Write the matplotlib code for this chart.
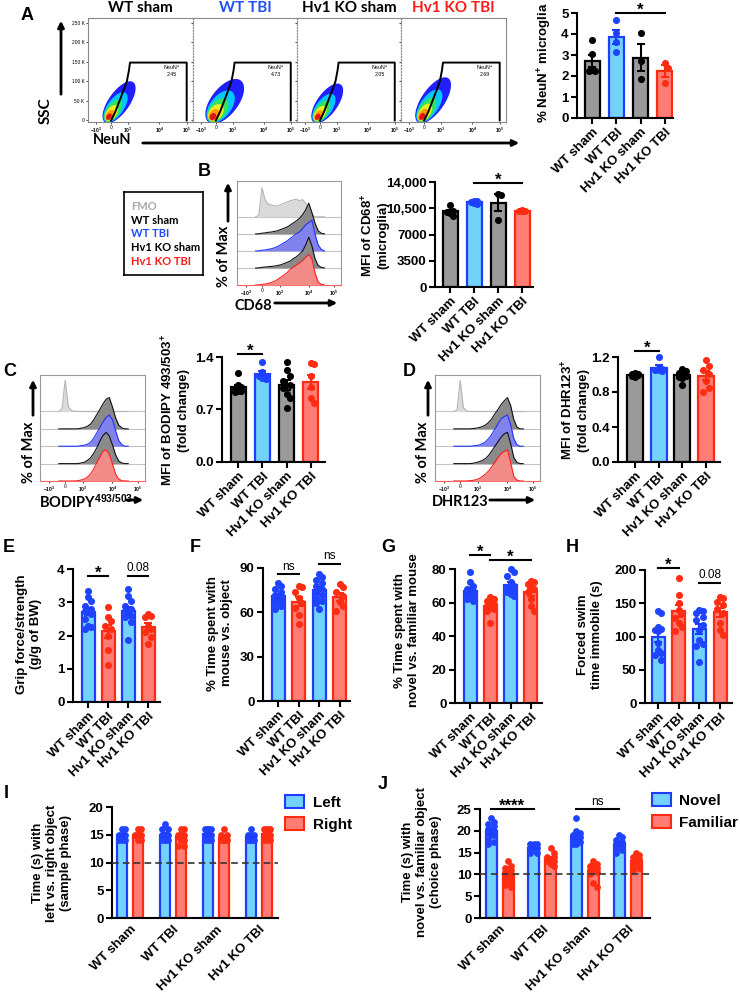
import matplotlib
matplotlib.use("Agg")
import matplotlib.pyplot as plt
import numpy as np
from matplotlib.patches import Patch, FancyArrowPatch

W, H = 740, 996

groups = ["WT sham", "WT TBI", "Hv1 KO sham", "Hv1 KO TBI"]

# A - flow plots (gate %) and % NeuN+ microglia
gate_pct = ["2.45", "4.73", "2.05", "2.69"]
gate_x = [0.22, 0.26, 0.30, 0.34, 0.37, 0.39, 0.40, 0.94, 0.94]
gate_y = [0, 22, 50, 78, 100, 128, 148, 148, 0]
cloud_base = [(0.19, 6), (0.18, 6), (0.19, 6), (0.19, 6)]
cloud_tip = [(0.43, 98), (0.46, 102), (0.42, 92), (0.45, 108)]
cloud_width = [0.2, 0.26, 0.2, 0.22]
neun_pct = [[3.7, 3.05, 2.3, 2.25, 2.25], [4.65, 4.05, 3.6, 3.12],
            [4.05, 2.7, 1.87], [2.62, 2.38, 1.67]]

# B - CD68
cd68_mfi = [[10900, 10200, 9900, 9500, 10000], [11420, 11330, 11200, 11100, 11450],
            [12440, 12300, 8980], [10250, 10150, 10100, 10200]]

# C - BODIPY, D - DHR123 (fold change)
bodipy_fc = [[1.18, 1.02, 1.0, 0.97, 0.95, 0.93, 0.95], [1.33, 1.2, 1.15, 1.12, 1.1, 1.15],
             [1.33, 1.22, 1.15, 1.08, 1.02, 0.98, 0.9, 0.85, 0.72],
             [1.32, 1.3, 1.15, 1.0, 0.85, 0.78]]
dhr_fc = [[1.02, 1.01, 1.0, 1.0, 0.99, 0.99, 0.98, 0.97], [1.2, 1.07, 1.06, 1.05, 1.05, 1.04],
          [1.06, 1.04, 1.02, 1.0, 0.98, 0.97, 0.96, 0.88],
          [1.17, 1.1, 1.05, 1.0, 0.92, 0.85, 0.8]]

# histogram overlays (fraction of max), rows: FMO, WT sham, WT TBI, KO sham, KO TBI
hist_x = [0.18, 0.21, 0.24, 0.27, 0.30, 0.33, 0.36, 0.39, 0.42, 0.45, 0.48, 0.51,
          0.54, 0.57, 0.60, 0.63, 0.66, 0.69, 0.72, 0.75, 0.78, 0.81, 0.84]
hist_cd68 = [
    [0, 0.05, 0.95, 0.55, 0.42, 0.38, 0.36, 0.35, 0.40, 0.44, 0.48, 0.52, 0.55, 0.58, 0.52, 0.56, 0.45, 0.25, 0.08, 0, 0, 0, 0],
    [0, 0, 0.02, 0.03, 0.05, 0.06, 0.08, 0.1, 0.14, 0.18, 0.22, 0.28, 0.35, 0.42, 0.5, 0.62, 0.78, 1.0, 0.7, 0.35, 0.1, 0.02, 0],
    [0, 0, 0.02, 0.03, 0.05, 0.07, 0.1, 0.14, 0.2, 0.26, 0.32, 0.4, 0.48, 0.56, 0.62, 0.72, 0.85, 0.92, 1.0, 0.55, 0.2, 0.05, 0],
    [0, 0, 0.02, 0.03, 0.04, 0.05, 0.06, 0.08, 0.1, 0.14, 0.18, 0.22, 0.3, 0.36, 0.45, 0.55, 0.75, 1.0, 0.72, 0.3, 0.08, 0.02, 0],
    [0, 0, 0.02, 0.03, 0.05, 0.08, 0.12, 0.18, 0.25, 0.32, 0.4, 0.5, 0.58, 0.65, 0.72, 0.8, 0.9, 1.0, 0.85, 0.4, 0.1, 0.02, 0],
]
hist_bodipy = [
    [0, 0.1, 1.0, 0.15, 0.03, 0.01, 0, 0, 0, 0, 0, 0, 0, 0, 0, 0, 0, 0, 0, 0, 0, 0, 0],
    [0, 0, 0, 0, 0, 0, 0, 0.02, 0.04, 0.08, 0.15, 0.28, 0.45, 0.62, 0.8, 0.95, 1.0, 0.7, 0.35, 0.12, 0.03, 0, 0],
    [0, 0, 0, 0, 0, 0, 0, 0.02, 0.03, 0.06, 0.12, 0.25, 0.42, 0.6, 0.78, 0.92, 1.0, 0.85, 0.5, 0.18, 0.05, 0, 0],
    [0, 0, 0, 0, 0, 0, 0, 0.02, 0.04, 0.1, 0.18, 0.32, 0.5, 0.72, 0.9, 1.0, 0.88, 0.6, 0.28, 0.08, 0.02, 0, 0],
    [0, 0, 0, 0, 0, 0, 0.01, 0.03, 0.06, 0.12, 0.22, 0.38, 0.58, 0.78, 0.95, 1.0, 0.85, 0.55, 0.22, 0.06, 0.01, 0, 0],
]
hist_dhr = [
    [0, 0.05, 1.0, 0.12, 0.02, 0, 0, 0, 0, 0, 0, 0, 0, 0, 0, 0, 0.04, 0, 0, 0, 0, 0, 0],
    [0, 0, 0, 0, 0, 0, 0.01, 0.02, 0.04, 0.07, 0.12, 0.2, 0.32, 0.48, 0.62, 0.78, 0.9, 1.0, 0.75, 0.3, 0.06, 0, 0],
    [0, 0, 0, 0, 0, 0, 0.01, 0.02, 0.04, 0.08, 0.14, 0.24, 0.38, 0.55, 0.72, 0.88, 0.95, 1.0, 0.7, 0.25, 0.05, 0, 0],
    [0, 0, 0, 0, 0, 0, 0.01, 0.03, 0.06, 0.1, 0.16, 0.26, 0.4, 0.55, 0.7, 0.85, 0.95, 1.0, 0.65, 0.2, 0.04, 0, 0],
    [0, 0, 0, 0, 0, 0.01, 0.02, 0.04, 0.08, 0.14, 0.22, 0.32, 0.45, 0.6, 0.75, 0.88, 0.95, 1.0, 0.6, 0.15, 0.03, 0, 0],
]

# E-H behaviour
grip = [[3.35, 3.15, 3.05, 2.9, 2.8, 2.75, 2.65, 2.5, 2.3, 2.2, 2.25],
        [2.85, 2.55, 2.45, 2.3, 2.2, 2.0, 1.55, 1.1],
        [3.4, 3.2, 3.05, 2.9, 2.8, 2.75, 2.7, 2.6, 2.55, 2.4, 1.85],
        [2.65, 2.6, 2.55, 2.3, 2.2, 2.1, 1.95, 1.75]]
mouse_obj = [[80, 78, 76, 74, 72, 71, 70, 69, 68, 66, 64, 62],
             [78, 77, 74, 70, 66, 63, 58, 52],
             [86, 84, 82, 80, 78, 76, 74, 72, 70, 68, 66, 62],
             [79, 77, 74, 71, 67, 64, 61]]
novel_mouse = [[78, 72, 70, 68, 67, 66, 65, 64, 63, 62, 61],
               [63, 62, 61, 60, 59, 58, 57, 56, 55, 48],
               [80, 78, 76, 72, 70, 69, 68, 67, 66, 65, 64],
               [73, 72, 71, 70, 68, 66, 62, 58, 55]]
swim = [[138, 135, 115, 112, 110, 108, 90, 80, 75, 72, 65],
        [188, 162, 150, 140, 135, 128, 120, 115, 108],
        [140, 138, 135, 130, 125, 118, 110, 95, 88, 85, 62],
        [160, 158, 152, 148, 142, 135, 120, 110, 103]]

# I - sample phase, J - choice phase
left_obj = [[16, 16, 15, 15, 15, 15, 14, 14, 14, 15], [17, 16, 16, 15, 15, 15, 14, 14, 14, 14],
            [16, 16, 16, 16, 15, 15, 14, 14, 14, 15], [16, 15, 15, 14, 14, 14, 14, 14, 15, 15]]
right_obj = [[16, 16, 15, 15, 15, 15, 15, 14, 14, 15], [16, 16, 15, 15, 15, 14, 14, 13, 13, 15],
             [16, 15, 15, 14, 14, 14, 14, 14, 14, 14], [16, 16, 16, 16, 15, 15, 14, 14, 14, 15]]
novel_obj = [[23, 22, 21.5, 21, 20.5, 20, 20, 19.5, 19, 19, 18, 17.5, 17],
             [17, 17, 17, 16.5, 16, 16, 15.5, 15, 15],
             [23, 20, 19.5, 19, 18.5, 18, 18, 17.5, 17, 17],
             [19, 18.5, 18, 17.5, 17, 16.5, 16, 15.5, 15]]
familiar_obj = [[13, 12, 11.5, 11, 10.5, 10, 10, 9.5, 9, 8.5, 8, 7.5, 7],
                [16, 15, 14, 14, 13.5, 13, 13, 12.5, 12],
                [13, 12.5, 12, 12, 11.5, 11, 10.5, 10, 8, 7],
                [15, 14.5, 14, 13.5, 13, 12.5, 12, 11.5, 11]]

GRAY = ("#9a9a9a", "#000000", "#000000")
BLUE = ("#72d2fa", "#1f3dff", "#1f44ff")
RED = ("#ff7d74", "#ff2a12", "#ff2d12")

plt.rcParams["font.family"] = ["Liberation Sans", "DejaVu Sans"]
plt.rcParams["font.weight"] = "bold"
plt.rcParams["axes.labelweight"] = "bold"
plt.rcParams["mathtext.fontset"] = "custom"
plt.rcParams["mathtext.rm"] = "Liberation Sans:bold"
plt.rcParams["mathtext.it"] = "Liberation Sans:bold"
plt.rcParams["mathtext.bf"] = "Liberation Sans:bold"

fig = plt.figure(figsize=(W / 100, H / 100), dpi=100)
FLOW = ["Lato", "DejaVu Sans"]


def fx(x):
    return x / W


def fy(y):
    return 1 - y / H


def ax_at(l, t, r, b):
    return fig.add_axes([l / W, 1 - b / H, (r - l) / W, (b - t) / H])


def arrow(x0, y0, x1, y1):
    fig.add_artist(FancyArrowPatch((fx(x0), fy(y0)), (fx(x1), fy(y1)), transform=fig.transFigure,
                                   arrowstyle="-|>", mutation_scale=9, lw=2, color="k"))


def swarm(ax, x0, vals, diam, maxw):
    p0 = ax.transData.transform((0, 0))
    p1 = ax.transData.transform((1, 1))
    sx, sy = p1[0] - p0[0], p1[1] - p0[1]
    step = diam * 0.5
    cands = [0.0]
    for k in range(1, 10):
        cands += [k * step, -k * step]
    cands = [c for c in cands if abs(c) <= maxw]
    placed = []
    out = np.zeros(len(vals))
    for i in np.argsort(vals)[::-1]:
        y = vals[i] * sy
        best, bestd = 0.0, -1
        for c in cands:
            d = min([np.hypot(c - px, y - py) for px, py in placed], default=1e9)
            if d >= diam * 0.95:
                best = c
                break
            if d > bestd:
                best, bestd = c, d
        placed.append((best, y))
        out[i] = best / sx
    return x0 + out


def draw_bar(ax, x, vals, style, width, dot_s=26):
    face, edge, dot = style
    vals = np.array(vals, dtype=float)
    m = vals.mean()
    se = vals.std(ddof=1) / np.sqrt(len(vals))
    ax.bar(x, m, width, color=face, edgecolor=edge, lw=1.6, zorder=1)
    p0 = ax.transData.transform((0, 0))[0]
    p1 = ax.transData.transform((width, 0))[0]
    xs = swarm(ax, x, vals, 6.5, (p1 - p0) * 0.4)
    ax.scatter(xs, vals, s=dot_s, color=dot, lw=0, zorder=3, clip_on=False)
    ax.errorbar(x, m, yerr=se, color=edge, capsize=3, lw=1.5, capthick=1.5, zorder=4)


def style_axes(ax):
    for s in ["top", "right"]:
        ax.spines[s].set_visible(False)
    for s in ["left", "bottom"]:
        ax.spines[s].set_linewidth(1.5)
    ax.tick_params(width=1.5, length=4, labelsize=9.5, pad=2)


def bar_panel(l, t, r, b, off, sp, bw, data, styles, ylim, yticks, yticklabels=None):
    ax = ax_at(l, t, r, b)
    ax.set_xlim(-off / sp, (r - l - off) / sp)
    ax.set_ylim(*ylim)
    style_axes(ax)
    ax.set_yticks(yticks)
    if yticklabels:
        ax.set_yticklabels(yticklabels)
    ax.set_xticks(range(4))
    ax.set_xticklabels(groups, rotation=45, ha="right", rotation_mode="anchor")
    for x, vals, st in zip(range(4), data, styles):
        draw_bar(ax, x, vals, st, bw / sp)
    return ax


def sig(ax, x0, x1, y, text, size=12, weight="bold", off=-3.5):
    ax.plot([x0, x1], [y, y], color="k", lw=1.5, clip_on=False)
    ax.annotate(text, xy=((x0 + x1) / 2, y), xytext=(0, off), textcoords="offset points",
                ha="center", va="bottom", fontsize=size, fontweight=weight, annotation_clip=False)


def ylab(x, y, text, size=9.5):
    fig.text(fx(x), fy(y), text, rotation=90, ha="center", va="center",
             multialignment="center", fontsize=size, fontweight="bold")


def letter(x, y, s):
    fig.text(fx(x), fy(y), s, ha="center", va="center", fontsize=13, fontweight="bold")


hist_styles = [("#dadada", "#b5b5b5"), ("#8a8a8a", "#111111"), ("#8282ec", "#2233ff"),
               ("#8a8a8a", "#111111"), ("#f28a88", "#ff2020")]
hist_ticks = [0.09, 0.24, 0.41, 0.69, 0.93]
hist_labels = ["$-10^3$", "0", "$10^3$", "$10^4$", "$10^5$"]


def hist_panel(l, t, r, b, curves):
    ax = ax_at(l, t, r, b)
    ax.set_xlim(0, 1)
    ax.set_ylim(0, 6.1)
    for k, (h, (fc, ec)) in enumerate(zip(curves, hist_styles)):
        base = 4 - k
        y = base + np.array(h) * 1.8
        ax.axhline(base, color="#c4c4c4", lw=0.8, zorder=1)
        ax.fill_between(hist_x, base, y, color=fc, lw=0, zorder=2 + k)
        ax.plot(hist_x, y, color=ec, lw=0.8, zorder=2 + k)
    for s in ax.spines.values():
        s.set_color("#9a9a9a")
        s.set_linewidth(0.8)
    ax.spines["bottom"].set_color("#ff6060")
    ax.set_yticks([])
    ax.set_xticks(hist_ticks)
    ax.set_xticklabels(hist_labels, fontsize=3.6, fontweight="normal")
    ax.tick_params(length=1.5, width=0.5, pad=1)
    return ax


# ---------- A: flow plots ----------
letter(27, 15, "A")
flow_colors = ["black", "#1f4dff", "black", "#ff1a1a"]
cloud_cols = ["#2020ff", "#00c8ff", "#35e060", "#e8f020", "#ff9a00", "#e0141c"]
cloud_scales = [1.0, 0.7, 0.5, 0.35, 0.22, 0.12]
tt = np.linspace(0, 2 * np.pi, 120)
flow_edges = [88, 193, 297, 401, 506]
for i in range(4):
    ax = ax_at(flow_edges[i], 18, flow_edges[i + 1], 122)
    ax.set_xlim(0, 1)
    ax.set_ylim(-4, 262)
    bx, by = cloud_base[i][0], (cloud_base[i][1] + 4) / 266
    tx, ty = cloud_tip[i][0], (cloud_tip[i][1] + 4) / 266
    d = np.array([tx - bx, ty - by])
    L = np.hypot(*d)
    u = d / L
    v = np.array([-u[1], u[0]])
    for col, s in zip(cloud_cols, cloud_scales):
        p0 = np.array([bx, by]) - u * 0.05 * np.sqrt(s)
        p1 = np.array([bx, by]) + d * s
        c = (p0 + p1) / 2
        a = np.hypot(*(p1 - p0)) / 2
        w = cloud_width[i] / 2 * s ** 0.7
        pts = c[:, None] + np.outer(u, a * np.cos(tt)) + np.outer(v, w * np.sin(tt))
        ax.fill(pts[0], pts[1] * 266 - 4, color=col, lw=0, zorder=2)
    ax.plot(gate_x, gate_y, color="k", lw=1.4, zorder=3)
    ax.text(0.8, 128, "NeuN$^{+}$\n" + gate_pct[i], ha="center", va="center", fontsize=3.8,
            fontweight="normal")
    ax.set_xticks([0.08, 0.22, 0.38, 0.68, 0.94])
    ax.set_xticklabels(hist_labels, fontsize=3.5, fontweight="normal")
    ax.set_yticks([0, 50, 100, 150, 200, 250])
    if i == 0:
        ax.set_yticklabels(["0", "50 K", "100 K", "150 K", "200 K", "250 K"], fontsize=3.5,
                           fontweight="normal")
    else:
        ax.set_yticklabels([])
        ax.spines["left"].set_linestyle(":")
    ax.tick_params(length=1.5, width=0.5, pad=1)
    for s in ax.spines.values():
        s.set_color("#888888")
        s.set_linewidth(0.8)
    fig.text(fx((flow_edges[i] + flow_edges[i + 1]) / 2), fy(8), groups[i], ha="center",
             va="center", fontsize=11, fontweight="bold", color=flow_colors[i], family=FLOW)

arrow(61, 97, 61, 18)
fig.text(fx(46), fy(111), "SSC", rotation=90, ha="center", va="center", fontsize=11,
         fontweight="bold", family=FLOW)
fig.text(fx(112), fy(140), "NeuN", ha="center", va="center", fontsize=10.5, fontweight="bold",
         family=FLOW)
arrow(140, 143, 522, 143)

ax = bar_panel(577, 13, 673, 118, 15, 24.3, 15, neun_pct, [GRAY, BLUE, GRAY, RED],
               (0, 5), [0, 1, 2, 3, 4, 5])
sig(ax, 1, 3, 5.0, "*")
ylab(545, 63, "% NeuN$^{+}$ microglia")

# ---------- B ----------
letter(204, 171, "B")
axl = ax_at(124, 192, 203, 275)
axl.set_xticks([])
axl.set_yticks([])
for s in axl.spines.values():
    s.set_linewidth(1.2)
leg_names = ["FMO", "WT sham", "WT TBI", "Hv1 KO sham", "Hv1 KO TBI"]
leg_cols = ["#a8a8a8", "black", "#1f4dff", "black", "#ff1a1a"]
for k, (nm, col) in enumerate(zip(leg_names, leg_cols)):
    axl.text(0.09, 0.82 - k * 0.163, nm, transform=axl.transAxes, ha="left", va="center",
             fontsize=8, fontweight="bold", color=col, family=FLOW)

hist_panel(237, 181, 341, 285, hist_cd68)
arrow(228, 224, 228, 180)
fig.text(fx(224), fy(256), "% of Max", rotation=90, ha="center", va="center", fontsize=10.5,
         fontweight="bold", family=FLOW)
fig.text(fx(235), fy(306), "CD68", ha="left", va="center", fontsize=10.5, fontweight="bold",
         family=FLOW)
arrow(272, 303, 340, 303)

ax = bar_panel(435, 182, 533, 287, 15, 24, 15, cd68_mfi, [GRAY, BLUE, GRAY, RED],
               (0, 14000), [0, 3500, 7000, 10500, 14000], ["0", "3500", "7000", "10,500", "14,000"])
sig(ax, 1, 3, 13900, "*")
ylab(375, 235, "MFI of CD68$^{+}$\n(microglia)")

# ---------- C ----------
letter(10, 371, "C")
hist_panel(40, 375, 145, 481, hist_bodipy)
arrow(33, 418, 33, 377)
fig.text(fx(29), fy(452), "% of Max", rotation=90, ha="center", va="center", fontsize=10.5,
         fontweight="bold", family=FLOW)
fig.text(fx(39), fy(502), "BODIPY$^{493/503}$", ha="left", va="center", fontsize=10.5,
         fontweight="bold", family=FLOW)
arrow(124, 500, 146, 500)

ax = bar_panel(222, 357, 325, 462, 16, 24.3, 15, bodipy_fc, [GRAY, BLUE, GRAY, RED],
               (0, 1.4), [0, 0.7, 1.4], ["0.0", "0.7", "1.4"])
sig(ax, 0, 1, 1.44, "*")
ylab(175, 410, "MFI of BODIPY 493/503$^{+}$\n(fold change)")

# ---------- D ----------
letter(409, 371, "D")
hist_panel(435, 375, 540, 481, hist_dhr)
arrow(428, 418, 428, 377)
fig.text(fx(423), fy(452), "% of Max", rotation=90, ha="center", va="center", fontsize=10.5,
         fontweight="bold", family=FLOW)
fig.text(fx(432), fy(502), "DHR123", ha="left", va="center", fontsize=10.5, fontweight="bold",
         family=FLOW)
arrow(487, 500, 538, 500)

ax = bar_panel(618, 357, 720, 462, 17, 23.7, 16, dhr_fc, [GRAY, BLUE, GRAY, RED],
               (0, 1.2), [0, 0.4, 0.8, 1.2], ["0.0", "0.4", "0.8", "1.2"])
sig(ax, 0, 1, 1.27, "*")
ylab(575, 410, "MFI of DHR123$^{+}$\n(fold change)")

# ---------- E-H ----------
beh = [BLUE, RED, BLUE, RED]
letter(9, 548, "E")
ax = bar_panel(73, 569, 160, 702, 15, 20, 13, grip, beh, (0, 4), [0, 1, 2, 3, 4])
sig(ax, 0, 1, 3.8, "*")
sig(ax, 2, 3, 3.8, "0.08", size=8.5, weight="normal", off=1)
ylab(29, 634, "Grip force/strength\n(g/g of BW)")

letter(195, 548, "F")
ax = bar_panel(263, 568, 350, 701, 15, 20.5, 13, mouse_obj, beh, (0, 90), [0, 30, 60, 90])
sig(ax, 0, 1, 86, "ns", size=8.5, weight="normal", off=1)
sig(ax, 2, 3, 93, "ns", size=8.5, weight="normal", off=1)
ylab(220, 633, "% Time spent with\nmouse vs. object")

letter(388, 548, "G")
ax = bar_panel(455, 569, 542, 703, 15, 20.3, 13, novel_mouse, beh, (0, 80), [0, 20, 40, 60, 80])
sig(ax, 0, 1, 88.5, "*")
sig(ax, 1, 3, 85.5, "*")
ylab(407, 630, "% Time spent with\nnovel vs. familiar mouse")

letter(572, 548, "H")
ax = bar_panel(645, 570, 732, 703, 13, 20.7, 13, swim, beh, (0, 200), [0, 50, 100, 150, 200])
sig(ax, 0, 1, 203, "*")
sig(ax, 2, 3, 180, "0.08", size=8.5, weight="normal", off=1.5)
ylab(590, 635, "Forced swim\ntime immobile (s)")


# ---------- I / J ----------
def paired_panel(l, t, r, b, off, sp, dx, bw, a_data, b_data, ylim, yticks):
    ax = ax_at(l, t, r, b)
    ax.set_xlim(-off / sp, (r - l - off) / sp)
    ax.set_ylim(*ylim)
    style_axes(ax)
    ax.set_yticks(yticks)
    ax.set_xticks(range(4))
    ax.set_xticklabels(groups, rotation=45, ha="right", rotation_mode="anchor")
    ax.tick_params(axis="x", length=0, pad=4)
    ax.axhline(10, color="#333333", lw=1.2, ls=(0, (4, 2.5)), zorder=5)
    for g in range(4):
        draw_bar(ax, g - dx / sp, a_data[g], BLUE, bw / sp, dot_s=24)
        draw_bar(ax, g + dx / sp, b_data[g], RED, bw / sp, dot_s=24)
    return ax


legend_kw = dict(loc="upper left", frameon=False, fontsize=11, handlelength=1.25,
                 handleheight=0.95, handletextpad=0.55, borderaxespad=0, borderpad=0,
                 labelspacing=0.45)

letter(6, 793, "I")
ax = paired_panel(112, 807, 278, 918, 18, 43, 8, 10, left_obj, right_obj, (0, 20), [0, 5, 10, 15, 20])
ylab(52, 863, "Time (s) with\nleft vs. right object\n(sample phase)")
fig.legend(handles=[Patch(fc=BLUE[0], ec=BLUE[1], lw=1.5, label="Left"),
                    Patch(fc=RED[0], ec=RED[1], lw=1.5, label="Right")],
           bbox_to_anchor=(fx(285), fy(795)), **legend_kw)

letter(383, 784, "J")
ax = paired_panel(480, 809, 650, 918, 19.5, 42.7, 8.5, 11, novel_obj, familiar_obj, (0, 25),
                  [0, 5, 10, 15, 20, 25])
dj = 8.5 / 42.7
sig(ax, 0 - dj, 1 - dj, 25, "****")
sig(ax, 2 - dj, 3 - dj, 25, "ns", size=8.5, weight="normal", off=1)
ylab(422, 862, "Time (s) with\nnovel vs. familiar object\n(choice phase)")
fig.legend(handles=[Patch(fc=BLUE[0], ec=BLUE[1], lw=1.5, label="Novel"),
                    Patch(fc=RED[0], ec=RED[1], lw=1.5, label="Familiar")],
           bbox_to_anchor=(fx(652), fy(793)), **legend_kw)

fig.savefig("out.png", dpi=100, facecolor="white")
